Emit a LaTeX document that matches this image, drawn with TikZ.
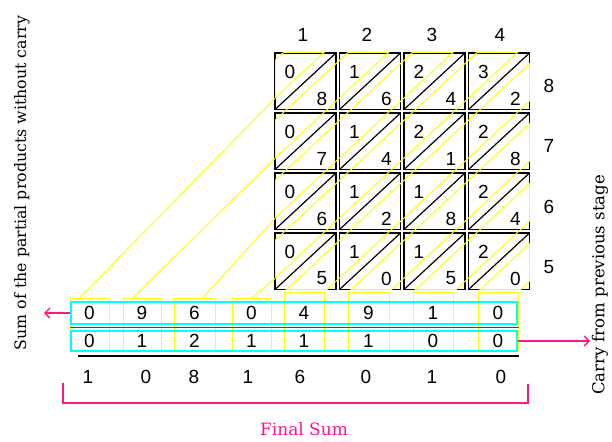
\documentclass[tikz,border=0pt]{standalone}
\usepackage{fontspec}
\setmainfont{Liberation Sans}
\newfontfamily\notefont{DejaVu Serif}
\usetikzlibrary{calc,arrows.meta}
\definecolor{sumpink}{RGB}{255,20,140}
\definecolor{rowcyan}{RGB}{0,255,255}
\definecolor{rulered}{RGB}{160,30,30}
\definecolor{bandyellow}{RGB}{255,255,0}

\begin{document}
\begin{tikzpicture}[x=1pt,y=-1pt,
        cell/.style={draw,line width=1.3pt,anchor=north west,inner sep=0pt,
            outer sep=0pt,minimum width=61pt,minimum height=56.5pt},
        digit/.style={inner sep=0pt,font=\fontsize{19}{22}\selectfont},
        band/.style={draw=bandyellow,line width=1pt},
        sumbox/.style={draw=bandyellow,line width=1pt,anchor=north,inner sep=0pt},
        cyanrow/.style={draw=rowcyan,line width=1.2pt,inner sep=0pt,minimum width=446pt},
        pinkline/.style={draw=sumpink,line width=1.3pt},
        pinkarrow/.style={pinkline,-{Straight Barb[length=5pt,width=10pt]}},
        sidenote/.style={font=\notefont\fontsize{16.5}{19}\selectfont,rotate=90}]
    \path[use as bounding box,fill=white] (0,0) rectangle (612,441);

    % lattice cells: row/column/upper digit/lower digit
    \foreach \r/\c/\u/\l in {1/1/0/8, 1/2/1/6, 1/3/2/4, 1/4/3/2,
            2/1/0/7, 2/2/1/4, 2/3/2/1, 2/4/2/8,
            3/1/0/6, 3/2/1/2, 3/3/1/8, 3/4/2/4,
            4/1/0/5, 4/2/1/0, 4/3/1/5, 4/4/2/0}{
        \node[cell] (c\r\c) at ({275+64.5*(\c-1)},{53+60*(\r-1)}) {};
        \draw[line width=1.2pt] (c\r\c.south west) -- (c\r\c.north east);
        \node[digit] (u\r\c) at ($(c\r\c.north west)+(15,19)$) {\u};
        \node[digit] (l\r\c) at ($(c\r\c.south east)+(-14,-11)$) {\l};
    }

    % yellow bands along the diagonals
    \foreach \s in {2,...,9}{
        \begin{scope}
            \clip ({284-129},{52+60*\s}) -- ({284+387},{52+60*(\s-8)})
                -- ({260+387},{52+60*(\s-7)}) -- ({260-129},{52+60*(\s+1)}) -- cycle;
            \draw[band] (c11.north west) rectangle (c44.south east);
        \end{scope}
    }
    \begin{scope}
        \clip (c11.north west) rectangle (c44.south east);
        \foreach \s in {2,...,9}{
            \draw[band] ({284-129},{52+60*\s}) -- ({284+387},{52+60*(\s-8)});
            \draw[band] ({260-129},{52+60*(\s+1)}) -- ({260+387},{52+60*(\s-7)});
        }
    \end{scope}

    % column and row factors
    \node[digit] (h1) at (303,35) {1};
    \node[digit] (h2) at (367,35) {2};
    \node[digit] (h3) at (432,35) {3};
    \node[digit] (h4) at (500,35) {4};
    \node[digit] (v8) at (549,86) {8};
    \node[digit] (v7) at (549,146) {7};
    \node[digit] (v6) at (549,207) {6};
    \node[digit] (v5) at (549,267) {5};

    % boxes under the bands
    \foreach \k/\x/\w/\t in {1/89.5/39/298, 2/142/38/298, 3/194.5/41/298,
            4/251.5/39/298, 5/304/40/292, 6/368.5/41/292, 7/433/40/292, 8/498/40/292}
        \node[sumbox,minimum width=\w pt,minimum height={350-\t}] (b\k) at (\x,\t) {};

    \path[band] ($(c11.south west)+(0,-11)$) edge ($(b1.north west)+(10,0)$);
    \path[band] ($(c21.south west)+(0,-11)$) edge ($(b2.north west)+(10,0)$);
    \path[band] ($(c31.south west)+(0,-11)$) edge ($(b3.north west)+(29,0)$);
    \path[band] ($(c41.south west)+(0,-11)$) edge ($(b4.north west)+(20,0)$);

    \node[cyanrow,minimum height=22pt] (row1) at (294,313) {};
    \node[cyanrow,minimum height=20pt] (row2) at (294,341) {};
    \draw[rulered,line width=1.3pt] (70,327.5) -- (519,327.5);
    \draw[line width=1.5pt] (78,356) -- (519,356);

    % sum, carry and final digits
    \foreach \k/\x/\p/\q/\f/\fx in {1/89.5/0/0/1/88, 2/142/9/1/0/146, 3/194.5/6/2/8/194,
            4/251.5/0/1/1/248, 5/304/4/1/6/300, 6/368.5/9/1/0/366,
            7/433/1/0/1/432, 8/498/0/0/0/501}{
        \node[digit] (s\k) at (\x,313) {\p};
        \node[digit] (k\k) at (\x,341) {\q};
        \node[digit] (f\k) at (\fx,377) {\f};
    }

    \coordinate (lend) at (44,313);
    \coordinate (rend) at (590,341);
    \draw[pinkarrow] (row1.west) -- (lend);
    \draw[pinkarrow] (row2.east) -- (rend);

    \coordinate (bl) at (63,383);
    \coordinate (br) at (528,384);
    \draw[pinkline] (bl) -- ++(0,20) -| (br);
    \node[text=sumpink,font=\notefont\fontsize{17}{20}\selectfont] (fsum) at (304,429) {Final Sum};

    \node[sidenote,font=\notefont\fontsize{15.8}{18}\selectfont] (nosum) at (22,183)
        {Sum of the partial products without carry};
    \node[sidenote] (carry) at (600,285) {Carry from previous stage};
\end{tikzpicture}
\end{document}
